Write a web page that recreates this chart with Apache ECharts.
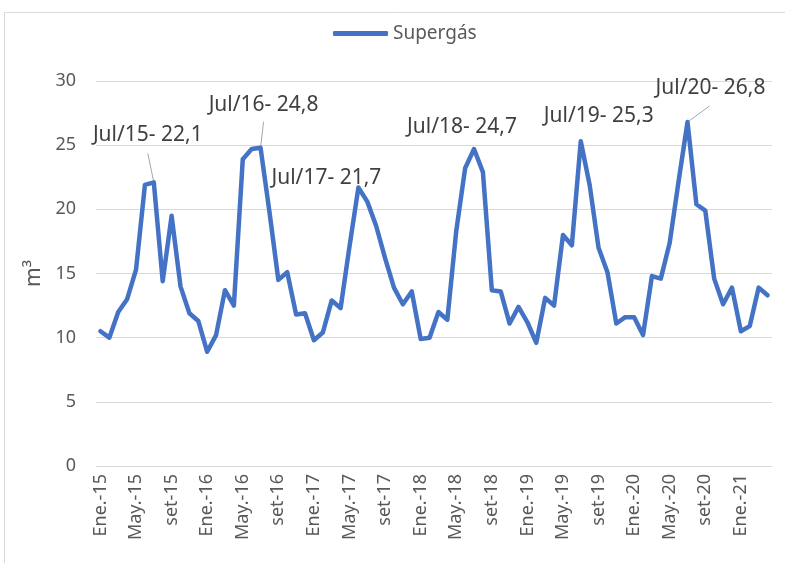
<!DOCTYPE html>
<html>
<head>
<meta charset="utf-8">
<script src="https://cdn.jsdelivr.net/npm/echarts@6.0.0/dist/echarts.min.js"></script>
<style>
    html, body { margin: 0; padding: 0; background: #fff; }
    #chart { width: 785px; height: 563px; }
</style>
</head>
<body>
<div id="chart"></div>
<script>
// categorias mensuales Ene.-15 .. Abr.-21
const monthNames = ['Ene.', 'Feb.', 'Mar.', 'Abr.', 'May.', 'Jun.', 'Jul.', 'Ago.', 'set', 'Oct.', 'Nov.', 'Dic.'];
const years = ['15', '16', '17', '18', '19', '20', '21'];
const categories = [];
years.forEach((y) => {
    monthNames.forEach((m) => {
        categories.push(m + '-' + y);
    });
});
categories.length = 76;

const supergas = [
    10.5, 10.0, 12.0, 13.0, 15.3, 21.9, 22.1, 14.4, 19.5, 14.0, 11.9, 11.3,
    8.9, 10.2, 13.7, 12.5, 23.9, 24.7, 24.8, 19.8, 14.5, 15.1, 11.8, 11.9,
    9.8, 10.4, 12.9, 12.3, 17.1, 21.7, 20.6, 18.7, 16.2, 13.9, 12.6, 13.6,
    9.9, 10.0, 12.0, 11.4, 18.3, 23.2, 24.7, 22.9, 13.7, 13.6, 11.1, 12.4,
    11.2, 9.6, 13.1, 12.5, 18.0, 17.2, 25.3, 21.9, 17.0, 15.1, 11.1, 11.6,
    11.6, 10.2, 14.8, 14.6, 17.4, 22.2, 26.8, 20.4, 19.9, 14.6, 12.6, 13.9,
    10.5, 10.9, 13.9, 13.3
];

// etiquetas de los picos
const peakIndex = [6, 18, 29, 42, 54, 66];
const peakText = ['Jul/15- 22,1', 'Jul/16- 24,8', 'Jul/17- 21,7', 'Jul/18- 24,7', 'Jul/19- 25,3', 'Jul/20- 26,8'];

// posicion de las etiquetas (relativa al punto) y lineas guia
const labelOffset = [[-6, -47], [3, -43], [-32, -10], [-12, -22], [18, -25], [23, -34]];
const leaderEnd = [[-6, -29], [3, -26], null, null, null, [22, -16]];

const seriesData = supergas.map((v, i) => {
    const k = peakIndex.indexOf(i);
    if (k < 0) {
        return v;
    }
    return {
        value: v,
        label: {
            show: true,
            position: 'inside',
            offset: labelOffset[k],
            formatter: peakText[k],
            fontSize: 21,
            color: '#404040',
            fontFamily: 'Noto Sans'
        }
    };
});

const myChart = echarts.init(document.getElementById('chart'));
myChart.setOption({
    animation: false,
    textStyle: {
        fontFamily: 'Noto Sans'
    },
    legend: {
        top: 19,
        left: 328,
        icon: 'roundRect',
        itemWidth: 55,
        itemHeight: 5,
        itemGap: 5,
        textStyle: {
            fontSize: 19,
            color: '#595959'
        },
        data: ['Supergás']
    },
    grid: {
        left: 96,
        right: 13,
        top: 81,
        bottom: 97
    },
    xAxis: {
        type: 'category',
        data: categories,
        boundaryGap: true,
        axisLine: {
            lineStyle: {
                color: '#d9d9d9'
            }
        },
        axisTick: {
            interval: 3,
            length: 5,
            lineStyle: {
                color: '#d9d9d9'
            }
        },
        axisLabel: {
            interval: 3,
            rotate: 90,
            margin: 8,
            fontSize: 18,
            color: '#595959'
        },
        splitLine: {
            show: false
        }
    },
    yAxis: {
        type: 'value',
        min: 0,
        max: 30,
        interval: 5,
        name: 'm³',
        nameLocation: 'middle',
        nameGap: 50,
        nameTextStyle: {
            fontSize: 21,
            color: '#595959'
        },
        axisLine: {
            show: false
        },
        axisTick: {
            show: false
        },
        axisLabel: {
            margin: 20,
            fontSize: 18,
            color: '#595959'
        },
        splitLine: {
            lineStyle: {
                color: '#d9d9d9'
            }
        }
    },
    series: [
        {
            name: 'Supergás',
            type: 'line',
            data: seriesData,
            symbol: 'circle',
            symbolSize: 2,
            showSymbol: true,
            showAllSymbol: true,
            itemStyle: {
                color: '#4472C4'
            },
            lineStyle: {
                color: '#4472C4',
                width: 4.5,
                cap: 'round',
                join: 'round'
            },
            emphasis: {
                disabled: true
            }
        }
    ]
});

// borde del grafico y lineas guia
const graphics = [
    {
        type: 'rect',
        shape: { x: 4.5, y: 12.5, width: 800, height: 600 },
        style: { fill: 'none', stroke: '#d9d9d9', lineWidth: 1 },
        silent: true
    }
];
peakIndex.forEach((idx, k) => {
    if (!leaderEnd[k]) {
        return;
    }
    const p = myChart.convertToPixel({ seriesIndex: 0 }, [idx, supergas[idx]]);
    graphics.push({
        type: 'line',
        shape: { x1: p[0], y1: p[1], x2: p[0] + leaderEnd[k][0], y2: p[1] + leaderEnd[k][1] },
        style: { stroke: '#a6a6a6', lineWidth: 1 },
        z: 1,
        silent: true
    });
});
myChart.setOption({ graphic: graphics });
</script>
</body>
</html>
